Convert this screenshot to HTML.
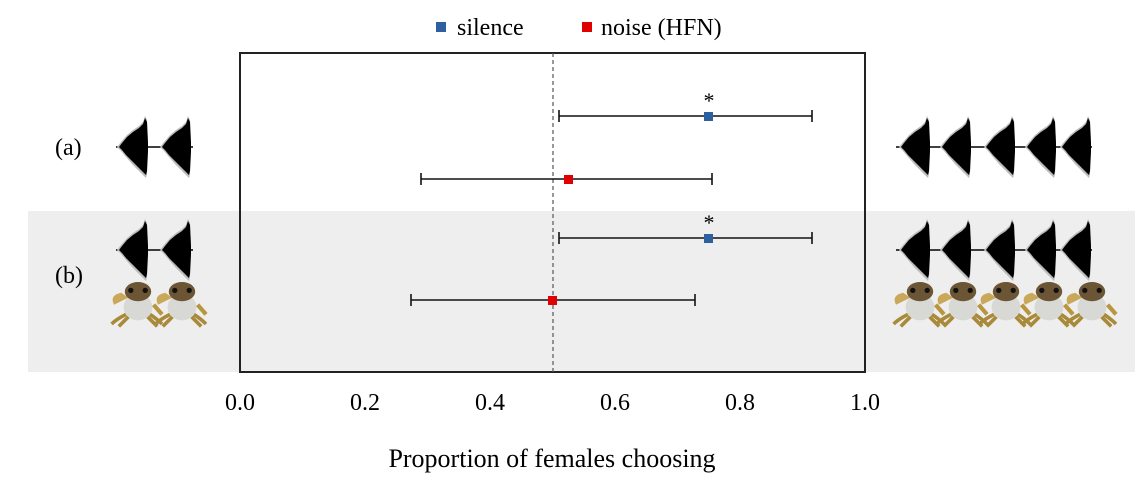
<!DOCTYPE html>
<html><head><meta charset="utf-8"><style>
html,body{margin:0;padding:0;background:#fff;}
svg{display:block;font-family:"Liberation Serif",serif;}
</style></head><body>
<svg width="1145" height="481" viewBox="0 0 1145 481">
<defs>
<g id="burst"><polygon points="-30,0 -26,-5 -20,-12 -14,-17 -8,-21 -4,-25 -2,-31 0,-27 1,-4 1,4 0,27 -1,31 -4,28 -9,23 -15,17 -21,10 -26,4" fill="#bbb"/><polygon points="-28,0 -25,-4 -20,-10 -14,-15 -8,-19 -4,-23 -2,-29 0,-25 1,-4 1,4 0,24 -1,28 -4,25 -9,20 -15,14 -21,8 -25,3" fill="#000"/></g>
<g id="frog" transform="scale(1.2)">
<path d="M-20,4 Q-24,-4 -14,-6 L-8,-2 Z" fill="#c9a85a"/>
<path d="M-10,12 Q-18,16 -22,20 M-8,14 Q-12,18 -16,22 M10,12 Q16,16 20,20 M8,14 Q12,18 16,22" stroke="#a88a3a" stroke-width="3" fill="none"/>
<ellipse cx="0" cy="6" rx="12" ry="11" fill="#d8d8d4"/>
<ellipse cx="0" cy="-7" rx="11" ry="8" fill="#6b5535"/>
<circle cx="-6" cy="-8" r="2.2" fill="#111"/><circle cx="6" cy="-8" r="2.2" fill="#111"/>
<path d="M13,4 L20,12" stroke="#b8963f" stroke-width="3.5"/>
</g>
</defs>
<rect x="28" y="211" width="1107" height="161" fill="#eeeeee"/>
<rect x="240" y="53" width="625" height="319" fill="none" stroke="#222" stroke-width="2"/>
<line x1="553" y1="53" x2="553" y2="372" stroke="#555" stroke-width="1.2" stroke-dasharray="4,3"/>
<g font-size="24" text-anchor="middle" fill="#000">
<text x="240" y="410">0.0</text><text x="365" y="410">0.2</text><text x="490" y="410">0.4</text><text x="615" y="410">0.6</text><text x="740" y="410">0.8</text><text x="865" y="410">1.0</text>
<text x="552" y="467" font-size="26">Proportion of females choosing</text>
</g>
<rect x="436" y="22" width="10" height="10" fill="#2e5f9e"/>
<text x="457" y="35" font-size="24" fill="#000">silence</text>
<rect x="582" y="22" width="10" height="10" fill="#e00000"/>
<text x="601" y="35" font-size="24" fill="#000">noise (HFN)</text>
<text x="55" y="155" font-size="24">(a)</text>
<text x="55" y="283" font-size="24">(b)</text>
<g stroke="#111" stroke-width="1.6">
<line x1="559" y1="116" x2="812" y2="116"/><line x1="559" y1="110" x2="559" y2="122"/><line x1="812" y1="110" x2="812" y2="122"/>
<line x1="421" y1="179" x2="712" y2="179"/><line x1="421" y1="173" x2="421" y2="185"/><line x1="712" y1="173" x2="712" y2="185"/>
<line x1="559" y1="238" x2="812" y2="238"/><line x1="559" y1="232" x2="559" y2="244"/><line x1="812" y1="232" x2="812" y2="244"/>
<line x1="411" y1="300" x2="695" y2="300"/><line x1="411" y1="294" x2="411" y2="306"/><line x1="695" y1="294" x2="695" y2="306"/>
</g>
<rect x="704" y="112" width="9" height="9" fill="#2e5f9e"/>
<rect x="564" y="175" width="9" height="9" fill="#e00000"/>
<rect x="704" y="234" width="9" height="9" fill="#2e5f9e"/>
<rect x="548" y="296" width="9" height="9" fill="#e00000"/>
<text x="709" y="108" font-size="22" text-anchor="middle">*</text>
<text x="709" y="230" font-size="22" text-anchor="middle">*</text>
<g stroke="#000" stroke-width="1.5">
<line x1="116" y1="147" x2="193" y2="147"/><line x1="116" y1="250" x2="193" y2="250"/>
<line x1="896" y1="147" x2="1092" y2="147"/><line x1="896" y1="250" x2="1092" y2="250"/>
</g>
<use href="#burst" x="147" y="147"/><use href="#burst" x="190" y="147"/>
<use href="#burst" x="147" y="250"/><use href="#burst" x="190" y="250"/>
<use href="#burst" x="929" y="147"/><use href="#burst" x="970" y="147"/><use href="#burst" x="1014" y="147"/><use href="#burst" x="1055" y="147"/><use href="#burst" x="1090" y="147"/>
<use href="#burst" x="929" y="250"/><use href="#burst" x="970" y="250"/><use href="#burst" x="1014" y="250"/><use href="#burst" x="1055" y="250"/><use href="#burst" x="1090" y="250"/>
<use href="#frog" x="138" y="300"/><use href="#frog" x="182" y="300"/>
<use href="#frog" x="920" y="300"/><use href="#frog" x="963" y="300"/><use href="#frog" x="1006" y="300"/><use href="#frog" x="1049" y="300"/><use href="#frog" x="1092" y="300"/>
</svg>
</body></html>
